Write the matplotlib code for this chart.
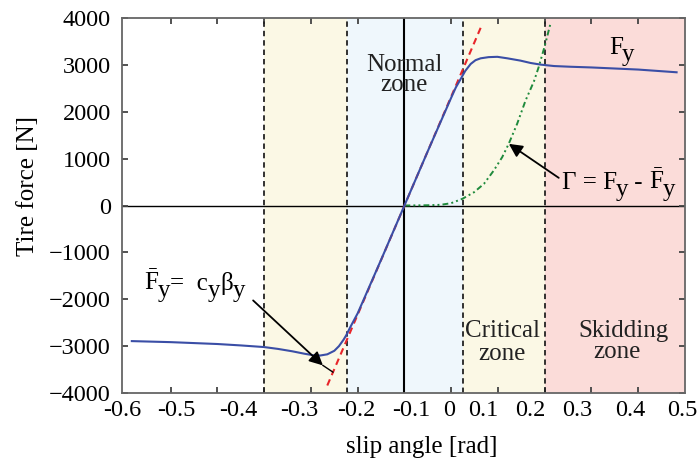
import numpy as np
import matplotlib
matplotlib.use("Agg")
import matplotlib.pyplot as plt

plt.rcParams['font.family'] = ['Liberation Serif', 'DejaVu Serif']
plt.rcParams['mathtext.fontset'] = 'custom'
plt.rcParams['mathtext.rm'] = 'Liberation Serif'
plt.rcParams['mathtext.it'] = 'Liberation Serif:italic'

# ---- data ----
fy_x = [-0.683, -0.6, -0.5, -0.45, -0.4, -0.37, -0.34, -0.315, -0.295, -0.28, -0.265,
        -0.25, -0.24, -0.23, -0.2247, -0.215, -0.2, -0.15, -0.1, -0.05, 0.0, 0.01,
        0.0204, 0.03, 0.0417, 0.052, 0.063, 0.08, 0.0986, 0.12, 0.148, 0.17, 0.191,
        0.22, 0.255, 0.3, 0.4, 0.482]
fy_y = [-2893, -2915, -2955, -2985, -3020, -3060, -3110, -3160, -3195, -3200, -3175,
        -3100, -3000, -2860, -2772, -2580, -2300, -1160, 0, 1160, 2300, 2520,
        2701, 2870, 3020, 3100, 3140, 3165, 3172, 3140, 3091, 3040, 3006,
        2975, 2960, 2945, 2900, 2842]

lin_x = [-0.265, 0.0647]
lin_y = [-3840, 3830]

gam_x = [-0.1, -0.05, -0.022, 0.0, 0.024, 0.049, 0.07, 0.091, 0.109, 0.123, 0.141,
         0.159, 0.177, 0.187, 0.2, 0.212]
gam_y = [0, 5, 15, 50, 143, 284, 462, 746, 1030, 1315, 1742,
         2239, 2650, 2950, 3400, 3870]

zone_edges = [-0.4, -0.223, 0.025, 0.2, 0.5]
zone_colors = ['#fbf8e5', '#eff7fc', '#fbf8e5', '#fbdcd9']
origin_x = -0.1

xtick_marks = [-0.6, -0.5, -0.4, -0.3, -0.2, -0.1, 0.0, 0.1, 0.2, 0.3, 0.4]
xtick_label_pos = [-0.704, -0.587, -0.455, -0.325, -0.203, -0.086, -0.005, 0.069,
                   0.170, 0.270, 0.383, 0.494]
xtick_labels = ['-0.6', '-0.5', '-0.4', '-0.3', '-0.2', '-0.1', '0', '0.1', '0.2',
                '0.3', '0.4', '0.5']
ytick_vals = [-4000, -3000, -2000, -1000, 0, 1000, 2000, 3000, 4000]
ytick_labels = ['\u22124000', '\u22123000', '\u22122000', '\u22121000', '0',
                '1000', '2000', '3000', '4000']

fig = plt.figure(figsize=(7.0, 4.69), dpi=100)
ax = fig.add_axes([122/700, 1-393/469, 563/700, 375/469])
ax.set_xlim(-0.7, 0.5)
ax.set_ylim(-4000, 4000)

# zones
for (a, b), c in zip(zip(zone_edges[:-1], zone_edges[1:]), zone_colors):
    ax.axvspan(a, b, color=c, lw=0, zorder=0)
ax.axhline(0, color='black', lw=1.0, zorder=1)
for xe in zone_edges[:-1]:
    ax.axvline(xe, color='#222222', lw=1.3, dashes=(3.0, 2.2), zorder=2)
ax.axvline(origin_x, color='black', lw=1.5, zorder=2)

# curves
ax.plot(gam_x, gam_y, color='#1e8a3c', lw=1.4, dashes=(3, 1.6, 1, 1.6, 1, 1.6), zorder=3)
ax.plot(lin_x, lin_y, color='#e8252a', lw=1.5, dashes=(3.2, 2.2), zorder=4)
ax.plot(fy_x, fy_y, color='#3a4ea6', lw=1.5, zorder=5)

# axes styling
for s in ax.spines.values():
    s.set_color('#666666')
    s.set_linewidth(1.3)
ax.set_xticks(xtick_label_pos, xtick_labels)
ax.set_xticks(xtick_marks, minor=True)
ax.set_yticks(ytick_vals, ytick_labels)
ax.tick_params(axis='x', which='major', length=0, pad=5, labelsize=17.5)
ax.tick_params(axis='x', which='minor', direction='in', length=4.5, width=1.3,
               color='#444444', top=True, bottom=True)
ax.tick_params(axis='y', which='major', direction='in', length=4.5, width=1.3,
               color='#444444', left=True, right=True, pad=8, labelsize=17.5)

ax.text((422-122)/563, (393-447)/375, 'slip angle [rad]', transform=ax.transAxes,
        ha='center', va='center', fontsize=18)
fig.text(28/700, 1-186/469, 'Tire force [N]', rotation=90, ha='center', va='center',
         fontsize=18)

# zone labels
fs = 18
tc = '#222222'
ax.text(-0.1, 2878, 'Normal', ha='center', va='baseline', fontsize=fs, color=tc, zorder=6)
ax.text(-0.1, 2437, 'zone', ha='center', va='baseline', fontsize=fs, color=tc, zorder=6)
ax.text(0.109, -2808, 'Critical', ha='center', va='baseline', fontsize=fs, color=tc, zorder=6)
ax.text(0.109, -3305, 'zone', ha='center', va='baseline', fontsize=fs, color=tc, zorder=6)
ax.text(0.368, -2800, 'Skidding', ha='center', va='baseline', fontsize=fs, color=tc, zorder=6)
ax.text(0.354, -3250, 'zone', ha='center', va='baseline', fontsize=fs, color=tc, zorder=6)


def chain(x, y, pieces, size=fs):
    prev = None
    prev_dy = 0
    for s, dy, gap in pieces:
        if prev is None:
            t = ax.text(x, y, s, fontsize=size, ha='left', va='baseline', zorder=7)
        else:
            t = ax.annotate(s, xy=(1, 0), xycoords=prev, xytext=(gap, dy - prev_dy),
                            textcoords='offset points', fontsize=size, ha='left',
                            va='bottom', zorder=7)
        prev = t
        prev_dy = dy


low = -5
chain(0.338, 3240, [('F', 0, 0), ('y', low, -1)])
chain(0.237, 356, [('\u0393 = F', 0, 0), ('y', low, -1), (' - ', 0, 0),
                   (r'$\bar{\mathrm{F}}$', 0, 0), ('y', low, -1)])
chain(-0.657, -1812, [(r'$\bar{\mathrm{F}}$', 0, 0), ('y', low, -1), ('=  c', 0, 0),
                      ('y', low, 0), ('\u03b2', 0, 0), ('y', low, 0)])

arrow = dict(arrowstyle='-|>', mutation_scale=20, lw=1.3, color='black',
             shrinkA=0, shrinkB=0)
ax.annotate('', xy=(0.1233, 1315), xytext=(0.23, 590), arrowprops=arrow, zorder=7)
ax.annotate('', xy=(-0.2744, -3411), xytext=(-0.4236, -2025), arrowprops=arrow, zorder=7)
ax.plot([-0.2744, -0.253], [-3411, -3554], color='black', lw=1.0, zorder=7)

fig.savefig('out.png', dpi=100)
